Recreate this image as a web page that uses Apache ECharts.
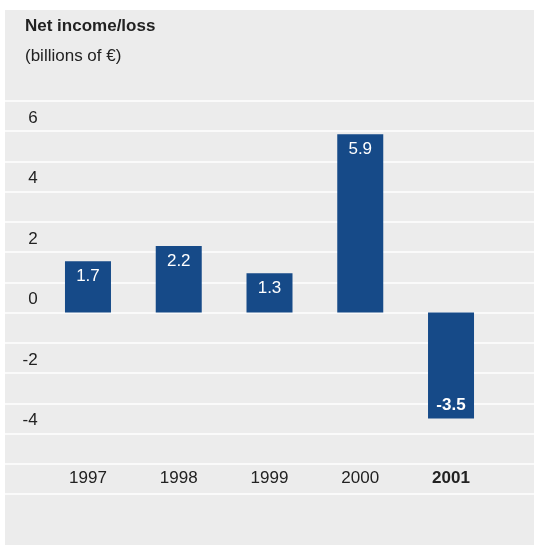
<!DOCTYPE html>
<html>
<head>
<meta charset="utf-8">
<title>Net income/loss</title>
<script src="https://cdn.jsdelivr.net/npm/echarts@6/dist/echarts.min.js"></script>
<style>
  html, body { margin: 0; padding: 0; background: #ffffff; }
  #chart {
    position: absolute;
    left: 5px;
    top: 10px;
    width: 529px;
    height: 535px;
    background: #ececec;
  }
</style>
</head>
<body>
<div id="chart"></div>
<script>
// Fiscal years and net income/loss (billions of €)
const years = ['1997', '1998', '1999', '2000', '2001'];
const netIncome = [1.7, 2.2, 1.3, 5.9, -3.5];
const highlightYear = '2001';

// Value axis range and labelled ticks
const axisMin = -6;
const axisMax = 7;
const labelledTicks = [-4, -2, 0, 2, 4, 6];

const FONT = '"Liberation Sans", Arial, Helvetica, sans-serif';
const TEXT = '#222222';
const BAR = '#164a88';

const chart = echarts.init(document.getElementById('chart'), null, { renderer: 'canvas' });

const categoryData = years.map(y => y === highlightYear
  ? { value: y, textStyle: { fontWeight: 'bold' } }
  : y);

const barData = netIncome.map((v, i) => {
  const bold = years[i] === highlightYear;
  return {
    value: v,
    label: {
      position: v < 0 ? 'insideBottom' : 'insideTop',
      distance: v < 0 ? 3 : 5,
      fontWeight: bold ? 'bold' : 'normal'
    }
  };
});

chart.setOption({
  animation: false,
  title: [
    {
      text: 'Net income/loss',
      left: 15,
      top: 1,
      padding: 5,
      textStyle: { fontFamily: FONT, fontSize: 17, fontWeight: 'bold', color: TEXT, lineHeight: 20 }
    },
    {
      text: '(billions of €)',
      left: 15,
      top: 31,
      padding: 5,
      textStyle: { fontFamily: FONT, fontSize: 17, fontWeight: 'normal', color: TEXT, lineHeight: 20 }
    }
  ],
  grid: [
    // bars
    { left: 37.6, right: 37.6, top: 91, bottom: 51 },
    // full-width white rules
    { left: 0, right: 0, top: 91, bottom: 51 }
  ],
  xAxis: [
    {
      type: 'category',
      gridIndex: 0,
      data: categoryData,
      axisLine: { show: false, onZero: false },
      axisTick: { show: false },
      axisLabel: {
        inside: true,
        margin: 6,
        fontFamily: FONT,
        fontSize: 17,
        color: TEXT,
        lineHeight: 20
      }
    },
    {
      type: 'value',
      gridIndex: 1,
      show: false,
      min: 0,
      max: 1
    }
  ],
  yAxis: [
    {
      type: 'value',
      gridIndex: 0,
      min: axisMin,
      max: axisMax,
      interval: 1,
      splitLine: { show: false },
      axisLine: { show: false },
      axisTick: { show: false },
      axisLabel: {
        margin: 5,
        fontFamily: FONT,
        fontSize: 17,
        color: TEXT,
        lineHeight: 20,
        verticalAlign: 'bottom',
        padding: [0, 0, 3, 0],
        formatter: v => labelledTicks.includes(v) ? String(v) : ''
      }
    },
    {
      type: 'value',
      gridIndex: 1,
      min: axisMin,
      max: axisMax,
      interval: 1,
      axisLine: { show: false },
      axisTick: { show: false },
      axisLabel: { show: false },
      splitLine: { show: true, lineStyle: { color: '#ffffff', width: 1.5 } }
    }
  ],
  series: [
    {
      type: 'bar',
      xAxisIndex: 0,
      yAxisIndex: 0,
      data: barData,
      barWidth: 46,
      itemStyle: { color: BAR },
      z: 3,
      label: {
        show: true,
        color: '#ffffff',
        fontFamily: FONT,
        fontSize: 17,
        lineHeight: 20,
        formatter: p => p.value.toFixed(1)
      }
    }
  ]
});
</script>
</body>
</html>
